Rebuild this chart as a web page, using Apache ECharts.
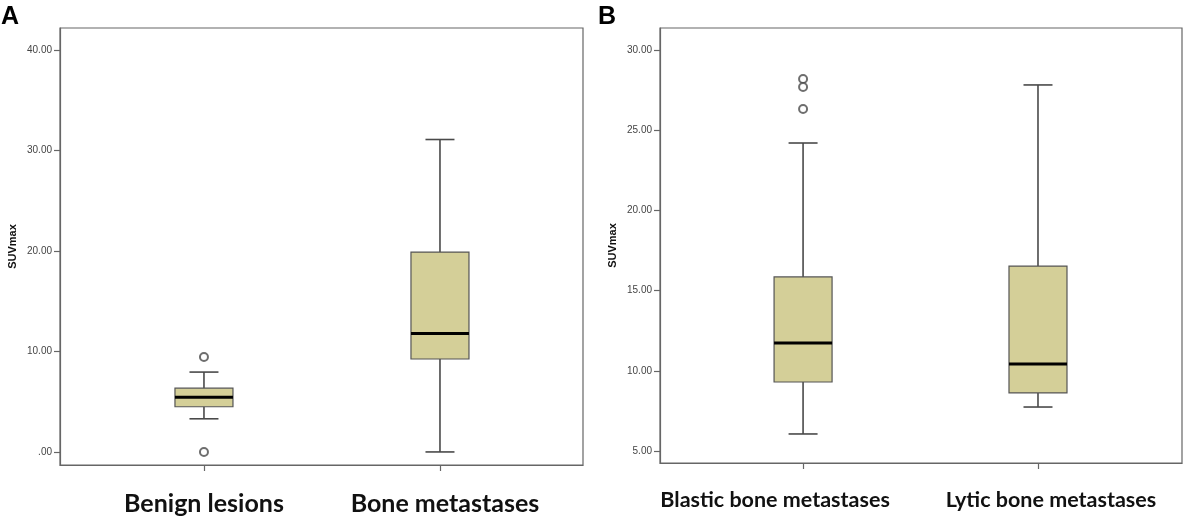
<!DOCTYPE html>
<html lang="en">
<head>
    <meta charset="UTF-8">
    <title>SUVmax boxplots</title>
    <script src="https://cdn.jsdelivr.net/npm/echarts@6/dist/echarts.min.js"></script>
    <style>
        body{
            margin: 0;
            background: #fff;
        }
        #chart{
            width: 1187px;
            height: 519px;
        }
    </style>
</head>
<body>
<div id="chart"></div>
<script>
    // panel A: min, Q1, median, Q3, max
    var catsA = ['Benign lesions', 'Bone metastases'];
    var benign = [3.3, 4.5, 5.45, 6.35, 7.95];
    var boneMet = [0, 9.25, 11.8, 19.9, 31.1];
    var outliersA = [[1, 9.45], [1, 0]];
    var ticksA = [0, 10, 20, 30, 40];

    // panel B
    var catsB = ['Blastic bone metastases', 'Lytic bone metastases'];
    var blastic = [6.06, 9.3, 11.73, 15.85, 24.2];
    var lytic = [7.74, 8.62, 10.42, 16.53, 27.82];
    var outliersB = [[1, 28.19], [1, 27.69], [1, 26.32]];
    var ticksB = [5, 10, 15, 20, 25, 30];

    // 标签水平偏移 (px), the labels are not quite centred on their ticks
    var shiftA = [0, 5];
    var shiftB = [-28, 13];

    var boxFill = '#d4cf98';
    var lineCol = '#4a4a4a';
    var frameCol = '#666';

    //箱体 + 须 (caps half the box width)
    function renderBox(params, api){
        var x = api.value(0);
        var pMin = api.coord([x, api.value(1)]);
        var pQ1 = api.coord([x, api.value(2)]);
        var pMed = api.coord([x, api.value(3)]);
        var pQ3 = api.coord([x, api.value(4)]);
        var pMax = api.coord([x, api.value(5)]);
        var cx = pMin[0];
        var hw = 29, cw = 14.5;
        var ls = {stroke: lineCol, lineWidth: 1.6};
        return {
            type: 'group',
            children: [
                {type: 'line', shape: {x1: cx, y1: pMin[1], x2: cx, y2: pQ1[1]}, style: ls},
                {type: 'line', shape: {x1: cx, y1: pQ3[1], x2: cx, y2: pMax[1]}, style: ls},
                {type: 'line', shape: {x1: cx - cw, y1: pMin[1], x2: cx + cw, y2: pMin[1]}, style: ls},
                {type: 'line', shape: {x1: cx - cw, y1: pMax[1], x2: cx + cw, y2: pMax[1]}, style: ls},
                {type: 'rect', shape: {x: cx - hw, y: pQ3[1], width: hw * 2, height: pQ1[1] - pQ3[1]},
                    style: {fill: boxFill, stroke: '#555', lineWidth: 1.2}},
                {type: 'line', shape: {x1: cx - hw, y1: pMed[1], x2: cx + hw, y2: pMed[1]},
                    style: {stroke: '#000', lineWidth: 3}}
            ]
        };
    }

    function xAxisOf(idx, cats, shift, min, max, fs){
        var rich = {};
        var txt = {color: '#111', fontFamily: 'Lato', fontWeight: 'bold', fontSize: fs};
        shift.forEach(function(s, i){
            // padding on one side moves the centred text by half of it
            rich['c' + i] = Object.assign({
                padding: s < 0 ? [0, -2 * s, 0, 0] : [0, 0, 0, 2 * s]
            }, txt);
        });
        return {
            type: 'value',
            gridIndex: idx,
            min: min,
            max: max,
            splitLine: {show: false},
            axisLine: {show: true, onZero: false, lineStyle: {color: frameCol, width: 1.2}},
            axisTick: {show: true, customValues: [1, 2], length: 6, lineStyle: {color: frameCol, width: 1.2}},
            axisLabel: {
                customValues: [1, 2],
                hideOverlap: false,
                margin: 26,
                color: '#111',
                fontFamily: 'Lato',
                fontWeight: 'bold',
                fontSize: fs,
                rich: rich,
                formatter: function(v){
                    var i = Math.round(v) - 1;
                    return '{c' + i + '|' + cats[i] + '}';
                }
            }
        };
    }

    function yAxisOf(idx, ticks, min, max){
        return {
            type: 'value',
            gridIndex: idx,
            min: min,
            max: max,
            name: 'SUVmax',
            nameLocation: 'middle',
            nameGap: 42,
            nameTextStyle: {fontFamily: 'Liberation Sans', fontWeight: 'bold', fontSize: 11, color: '#111'},
            splitLine: {show: false},
            axisLine: {show: true, onZero: false, lineStyle: {color: frameCol, width: 1.2}},
            axisTick: {show: true, customValues: ticks, length: 6, lineStyle: {color: frameCol, width: 1.2}},
            axisLabel: {
                customValues: ticks,
                hideOverlap: false,
                margin: 8,
                color: '#444',
                fontFamily: 'Liberation Sans',
                fontSize: 10,
                formatter: function(v){ return v === 0 ? '.00' : v.toFixed(2); }
            }
        };
    }

    var outlierStyle = {color: '#4a4a4a', borderColor: '#4a4a4a', borderWidth: 1.4};

    var chart = echarts.init(document.getElementById('chart'));
    chart.setOption({
        animation: false,
        title: [
            {text: 'A', left: 1, top: 5, padding: 0, textStyle: {fontFamily: 'Liberation Sans', fontWeight: 'bold', fontSize: 25, color: '#000'}},
            {text: 'B', left: 598, top: 5, padding: 0, textStyle: {fontFamily: 'Liberation Sans', fontWeight: 'bold', fontSize: 25, color: '#000'}}
        ],
        grid: [
            {left: 60, top: 28, width: 523, height: 437, show: true, borderColor: frameCol, borderWidth: 1.2},
            {left: 660, top: 28, width: 522, height: 435, show: true, borderColor: frameCol, borderWidth: 1.2}
        ],
        xAxis: [
            xAxisOf(0, catsA, shiftA, 0.39, 2.606, 25),
            xAxisOf(1, catsB, shiftB, 0.391, 2.613, 21.5)
        ],
        yAxis: [
            yAxisOf(0, ticksA, -1.3, 42.2),
            yAxisOf(1, ticksB, 4.25, 31.37)
        ],
        series: [
            {
                type: 'custom',
                xAxisIndex: 0, yAxisIndex: 0,
                renderItem: renderBox,
                encode: {x: 0, y: [1, 2, 3, 4, 5]},
                data: [[1].concat(benign), [2].concat(boneMet)]
            },
            {
                type: 'scatter',
                xAxisIndex: 0, yAxisIndex: 0,
                symbol: 'emptyCircle',
                symbolSize: 8,
                itemStyle: outlierStyle,
                data: outliersA
            },
            {
                type: 'custom',
                xAxisIndex: 1, yAxisIndex: 1,
                renderItem: renderBox,
                encode: {x: 0, y: [1, 2, 3, 4, 5]},
                data: [[1].concat(blastic), [2].concat(lytic)]
            },
            {
                type: 'scatter',
                xAxisIndex: 1, yAxisIndex: 1,
                symbol: 'emptyCircle',
                symbolSize: 8,
                itemStyle: outlierStyle,
                data: outliersB
            }
        ]
    });
</script>
</body>
</html>
